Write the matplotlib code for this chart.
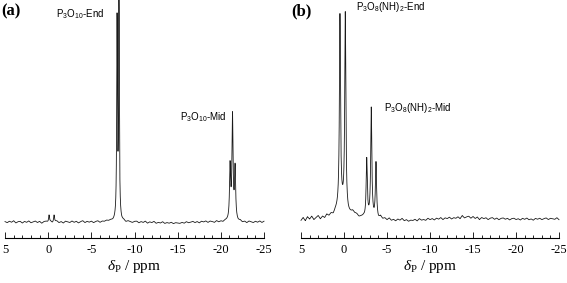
import numpy as np
import matplotlib
matplotlib.use('Agg')
import matplotlib.pyplot as plt

plt.rcParams['mathtext.fontset'] = 'custom'
plt.rcParams['mathtext.rm'] = 'Liberation Serif'
plt.rcParams['mathtext.it'] = 'Liberation Serif:italic'
plt.rcParams['mathtext.default'] = 'regular'
plt.rcParams['axes.unicode_minus'] = False

# peak lists: position (ppm), height, FWHM (ppm)
a_pos = [-0.10, -0.68, -7.98, -8.20, -21.07, -21.35, -21.65]
a_height = [7, 7, 199, 211, 54, 103, 51]
a_fwhm = [0.12, 0.12, 0.10, 0.10, 0.15, 0.15, 0.15]

b_pos = [0.30, 0.47, -0.15, -1.25, -2.64, -3.17, -3.72]
b_height = [13, 189, 195, 4, 58, 109, 54]
b_fwhm = [1.30, 0.15, 0.15, 0.60, 0.154, 0.154, 0.154]

# baseline wiggle, 5 ppm -> -25 ppm, evenly spaced
a_base = [0.4, -0.7, 0.8, -0.3, 1.3, -1.0, 0.3, 0.7, -1.1, 0.6, -0.4, 1.1, -0.8, 0.1, 1.0, -0.6, 0.7, -1.3, 0.4, 0.8, -0.3,
          0.6, -0.8, 0.3, 1.1, -0.7, 0.4, -1.1, 0.8, 0.1, -0.6, 1.0, -0.4, 0.7, -1.0, 0.3, 1.3, -0.7, 0.6, -0.3, 0.8,
          -0.8, 0.4, 1.1, -0.6, 0.7, 0.3, 1.4, 0.8, 1.3, 0.4, 0.7, -0.3, 2.0, -0.4, 0.8, -0.7, 0.6, 0.1, -0.8, 0.4,
          0.7, -1.0, 0.3, -0.6, 0.8, -1.3, 0.1, -0.7, 0.6, -1.4, -0.4, -1.1, 0.3, -1.5, -0.6, -1.3, -0.3, -1.7, -0.7, -1.1,
          -1.4, -0.4, -1.3, 0.3, -0.8, -0.3, 0.6, -0.7, 0.4, -1.0, 0.7, -0.1, 1.0, -0.6, 0.8, 0.3, -0.7, 1.1, -0.3, 0.6,
          -0.4, 0.8, 0.3, -0.6, 0.4, 1.3, 0.7, -0.3, 0.8, -0.7, 0.4, -1.1, 0.7, 0.1, -0.8, 0.6, -0.4, 1.0, -0.6, 0.7]
b_base = [-1.7, 1.1, -2.1, 1.8, -0.6, 2.2, -1.3, 0.7, 2.5, -1.0, 1.5, -0.4, 2.7, 0.6, 2.1, -0.3, 1.7, 0.8, 1.4, 0.4, 0.7,
          0.3, -0.6, 0.8, 2.1, -1.1, 0.4, -0.7, 0.3, 0.6, -0.8, 0.7, -0.4, 0.3, -1.0, 0.8, -1.3, 1.7, -0.6, 0.4, -1.4,
          0.6, -1.8, -0.7, -2.2, -0.3, -1.5, 0.4, -2.0, -0.8, -2.5, -1.3, -1.7, -0.4, -2.1, 0.3, -1.3, -0.6, -1.5, 0.7, -0.8,
          0.4, -1.1, 0.8, -0.3, 1.4, -0.7, 1.1, 0.3, 1.8, -0.1, 1.3, 0.6, 2.2, 0.3, 3.4, 1.0, 2.1, 2.8, 0.7, 2.5,
          0.4, 2.0, -0.6, 1.5, 0.3, 1.3, -0.7, 0.8, 1.4, -0.4, 1.0, -0.8, 0.6, 1.1, -0.3, 0.7, -1.0, 0.4, 0.8, -0.6,
          0.3, -1.1, 0.7, -0.4, 1.0, -0.8, 0.1, -1.3, 0.6, -0.3, 0.8, -0.7, 0.4, 1.1, -0.6, 0.7, 0.3, -0.4, 1.3, -0.7]

xticks = [5, 0, -5, -10, -15, -20, -25]


def spectrum(ppm, pos, height, fwhm, base):
    y = np.zeros_like(ppm)
    for p, h, w in zip(pos, height, fwhm):
        y += h / (1 + ((ppm - p) / (w / 2)) ** 2)
    grid = np.linspace(5, -25, len(base))
    y += np.interp(ppm, grid[::-1], base[::-1])
    return y


ppm = np.linspace(5, -25, 6001)

fig = plt.figure(figsize=(5.67, 2.83), dpi=100)
ax1 = fig.add_axes([5 / 567, 45 / 283, 259 / 567, 238 / 283])
ax2 = fig.add_axes([301 / 567, 45 / 283, 258 / 567, 238 / 283])

panels = [
    (ax1, a_pos, a_height, a_fwhm, a_base, (-16, 222)),
    (ax2, b_pos, b_height, b_fwhm, b_base, (-19, 219)),
]
for ax, pos, h, w, base, ylim in panels:
    ax.plot(ppm, spectrum(ppm, pos, h, w, np.array(base)), color='#1a1a1a', lw=0.6, clip_on=False)
    ax.set_xlim(5, -25)
    ax.set_ylim(*ylim)
    for s in ['top', 'left', 'right']:
        ax.spines[s].set_visible(False)
    ax.spines['bottom'].set_linewidth(0.8)
    ax.set_yticks([])
    ax.set_xticks(xticks)
    ax.set_xticks(np.arange(5, -26, -1), minor=True)
    ax.tick_params(axis='x', which='major', direction='in', length=4, width=0.6, pad=4)
    ax.tick_params(axis='x', which='minor', direction='in', length=2.4, width=0.6)
    for lab in ax.get_xticklabels():
        lab.set_fontfamily('Liberation Serif')
        lab.set_fontsize(9)
    ax.set_xlabel(r'$\mathit{\delta}_{P}$ / ppm', fontfamily='Liberation Serif', fontsize=11, labelpad=1.5)
    ax.patch.set_visible(False)

sans = dict(fontfamily='Liberation Sans', fontsize=7, ha='left', va='baseline')
ax1.text(-0.91, 205, 'P$_3$O$_{10}$-End', **sans)
ax1.text(-15.27, 102, 'P$_3$O$_{10}$-Mid', **sans)
ax2.text(-1.40, 209, 'P$_3$O$_8$(NH)$_2$-End', **sans)
ax2.text(-4.65, 108, 'P$_3$O$_8$(NH)$_2$-Mid', **sans)

fig.text(1 / 567, 1 - 3 / 283, '(a)', fontfamily='Liberation Serif', fontweight='bold', fontsize=12, va='top')
fig.text(291 / 567, 1 - 3 / 283, '(b)', fontfamily='Liberation Serif', fontweight='bold', fontsize=12, va='top')

fig.savefig('out.png', dpi=100)
